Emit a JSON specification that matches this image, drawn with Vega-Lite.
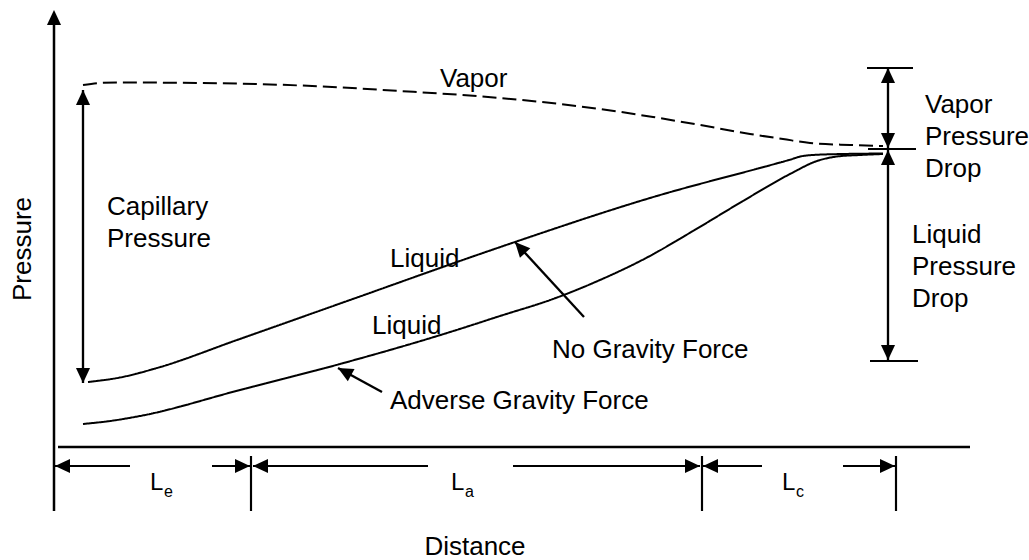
{
  "$schema": "https://vega.github.io/schema/vega-lite/v6.json",
  "description": "Pressure distribution along a heat pipe: vapor and liquid pressure versus distance through evaporator, adiabatic and condenser sections.",
  "width": 1029,
  "height": 560,
  "autosize": "none",
  "padding": 0,
  "background": "white",
  "config": {
    "view": {"stroke": null},
    "text": {"font": "Liberation Sans", "fontSize": 26, "color": "black"}
  },
  "datasets": {
    "curves": [
      {"series": "Vapor", "phase": "vapor", "x": 29, "y": 362},
      {"series": "Vapor", "phase": "vapor", "x": 46, "y": 364},
      {"series": "Vapor", "phase": "vapor", "x": 63, "y": 364.5},
      {"series": "Vapor", "phase": "vapor", "x": 146, "y": 364},
      {"series": "Vapor", "phase": "vapor", "x": 246, "y": 361.5},
      {"series": "Vapor", "phase": "vapor", "x": 346, "y": 356},
      {"series": "Vapor", "phase": "vapor", "x": 446, "y": 349},
      {"series": "Vapor", "phase": "vapor", "x": 546, "y": 338},
      {"series": "Vapor", "phase": "vapor", "x": 599, "y": 330},
      {"series": "Vapor", "phase": "vapor", "x": 646, "y": 322},
      {"series": "Vapor", "phase": "vapor", "x": 696, "y": 313},
      {"series": "Vapor", "phase": "vapor", "x": 729, "y": 308},
      {"series": "Vapor", "phase": "vapor", "x": 756, "y": 304},
      {"series": "Vapor", "phase": "vapor", "x": 796, "y": 302},
      {"series": "Vapor", "phase": "vapor", "x": 829, "y": 301},
      {"series": "Liquid, no gravity", "phase": "liquid", "x": 34, "y": 65},
      {"series": "Liquid, no gravity", "phase": "liquid", "x": 66, "y": 69.5},
      {"series": "Liquid, no gravity", "phase": "liquid", "x": 103, "y": 79},
      {"series": "Liquid, no gravity", "phase": "liquid", "x": 183, "y": 107},
      {"series": "Liquid, no gravity", "phase": "liquid", "x": 296, "y": 147},
      {"series": "Liquid, no gravity", "phase": "liquid", "x": 426, "y": 193},
      {"series": "Liquid, no gravity", "phase": "liquid", "x": 461, "y": 205},
      {"series": "Liquid, no gravity", "phase": "liquid", "x": 596, "y": 249},
      {"series": "Liquid, no gravity", "phase": "liquid", "x": 735, "y": 287},
      {"series": "Liquid, no gravity", "phase": "liquid", "x": 749, "y": 291},
      {"series": "Liquid, no gravity", "phase": "liquid", "x": 769, "y": 292.5},
      {"series": "Liquid, no gravity", "phase": "liquid", "x": 829, "y": 293.5},
      {"series": "Liquid, adverse gravity", "phase": "liquid", "x": 29, "y": 23},
      {"series": "Liquid, adverse gravity", "phase": "liquid", "x": 56, "y": 26},
      {"series": "Liquid, adverse gravity", "phase": "liquid", "x": 86, "y": 31},
      {"series": "Liquid, adverse gravity", "phase": "liquid", "x": 186, "y": 57},
      {"series": "Liquid, adverse gravity", "phase": "liquid", "x": 286, "y": 83},
      {"series": "Liquid, adverse gravity", "phase": "liquid", "x": 393, "y": 114},
      {"series": "Liquid, adverse gravity", "phase": "liquid", "x": 446, "y": 131},
      {"series": "Liquid, adverse gravity", "phase": "liquid", "x": 499, "y": 148},
      {"series": "Liquid, adverse gravity", "phase": "liquid", "x": 546, "y": 167},
      {"series": "Liquid, adverse gravity", "phase": "liquid", "x": 594, "y": 190},
      {"series": "Liquid, adverse gravity", "phase": "liquid", "x": 639, "y": 216},
      {"series": "Liquid, adverse gravity", "phase": "liquid", "x": 689, "y": 246},
      {"series": "Liquid, adverse gravity", "phase": "liquid", "x": 736, "y": 273},
      {"series": "Liquid, adverse gravity", "phase": "liquid", "x": 763, "y": 286},
      {"series": "Liquid, adverse gravity", "phase": "liquid", "x": 783, "y": 290.5},
      {"series": "Liquid, adverse gravity", "phase": "liquid", "x": 806, "y": 292},
      {"series": "Liquid, adverse gravity", "phase": "liquid", "x": 829, "y": 293}
    ],
    "segments": [
      {"part": "axis", "x": 0, "y": -64, "x2": 0, "y2": 430},
      {"part": "axis", "x": 4, "y": 0, "x2": 916, "y2": 0},
      {"part": "shaft", "x": 29, "y": 64, "x2": 29, "y2": 357},
      {"part": "shaft", "x": 834, "y": 299, "x2": 834, "y2": 379},
      {"part": "shaft", "x": 834, "y": 87, "x2": 834, "y2": 297},
      {"part": "shaft", "x": 530, "y": 130, "x2": 461, "y2": 205},
      {"part": "shaft", "x": 328, "y": 55, "x2": 284, "y2": 79},
      {"part": "bar", "x": 813, "y": 379, "x2": 859, "y2": 379},
      {"part": "bar", "x": 814, "y": 298, "x2": 862, "y2": 298},
      {"part": "bar", "x": 816, "y": 86, "x2": 864, "y2": 86},
      {"part": "bar", "x": 197, "y": -9, "x2": 197, "y2": -64},
      {"part": "bar", "x": 648, "y": -9, "x2": 648, "y2": -64},
      {"part": "bar", "x": 842, "y": -9, "x2": 842, "y2": -64},
      {"part": "dimension", "x": 1, "y": -19, "x2": 76, "y2": -19},
      {"part": "dimension", "x": 158, "y": -19, "x2": 196, "y2": -19},
      {"part": "dimension", "x": 199, "y": -19, "x2": 374, "y2": -19},
      {"part": "dimension", "x": 459, "y": -19, "x2": 646, "y2": -19},
      {"part": "dimension", "x": 649, "y": -19, "x2": 708, "y2": -19},
      {"part": "dimension", "x": 789, "y": -19, "x2": 841, "y2": -19}
    ],
    "heads": [
      {"x": 0, "y": 437, "heading": 0},
      {"x": 29, "y": 357, "heading": 0},
      {"x": 29, "y": 64, "heading": 180},
      {"x": 834, "y": 379, "heading": 0},
      {"x": 834, "y": 299, "heading": 180},
      {"x": 834, "y": 297, "heading": 0},
      {"x": 834, "y": 87, "heading": 180},
      {"x": 1, "y": -19, "heading": 270},
      {"x": 196, "y": -19, "heading": 90},
      {"x": 199, "y": -19, "heading": 270},
      {"x": 646, "y": -19, "heading": 90},
      {"x": 649, "y": -19, "heading": 270},
      {"x": 841, "y": -19, "heading": 90},
      {"x": 461, "y": 205, "heading": 317.4},
      {"x": 284, "y": 79, "heading": 298.6}
    ],
    "labels": [
      {"x": 386, "y": 360, "text": "Vapor"},
      {"x": 53, "y": 232, "text": "Capillary\nPressure"},
      {"x": 336, "y": 180, "text": "Liquid"},
      {"x": 318, "y": 113, "text": "Liquid"},
      {"x": 498, "y": 89, "text": "No Gravity Force"},
      {"x": 336, "y": 38, "text": "Adverse Gravity Force"},
      {"x": 871, "y": 334, "text": "Vapor\nPressure\nDrop"},
      {"x": 858, "y": 204, "text": "Liquid\nPressure\nDrop"}
    ],
    "sections": [
      {"x": 96, "y": -43, "main": "L", "sub": "e"},
      {"x": 397, "y": -43, "main": "L", "sub": "a"},
      {"x": 728, "y": -43, "main": "L", "sub": "c"}
    ],
    "titles": [
      {"x": 421, "y": -100, "text": "Distance", "angle": 0},
      {"x": -31, "y": 198, "text": "Pressure", "angle": 270}
    ]
  },
  "layer": [
    {
      "data": {"name": "segments"},
      "mark": {"type": "rule", "color": "black"},
      "encoding": {
        "x": {"field": "x", "type": "quantitative", "scale": {"domain": [-54, 975], "nice": false, "zero": false}, "axis": null},
        "y": {"field": "y", "type": "quantitative", "scale": {"domain": [-113, 447], "nice": false, "zero": false}, "axis": null},
        "x2": {"field": "x2"},
        "y2": {"field": "y2"},
        "strokeWidth": {
          "field": "part",
          "type": "nominal",
          "scale": {"domain": ["axis", "shaft", "bar", "dimension"], "range": [2.5, 2, 2.5, 1.8]},
          "legend": null
        }
      }
    },
    {
      "data": {"name": "curves"},
      "mark": {"type": "line", "color": "black", "strokeWidth": 2, "interpolate": "monotone"},
      "encoding": {
        "x": {"field": "x", "type": "quantitative", "scale": {"domain": [-54, 975], "nice": false, "zero": false}, "axis": null},
        "y": {"field": "y", "type": "quantitative", "scale": {"domain": [-113, 447], "nice": false, "zero": false}, "axis": null},
        "detail": {"field": "series", "type": "nominal"},
        "strokeDash": {
          "field": "phase",
          "type": "nominal",
          "scale": {"domain": ["vapor", "liquid"], "range": [[14, 6], [1, 0]]},
          "legend": null
        }
      }
    },
    {
      "data": {"name": "heads"},
      "mark": {"type": "point", "shape": "M0,0L-0.47,1L0.47,1Z", "filled": true, "color": "black", "opacity": 1, "size": 900, "strokeWidth": 0},
      "encoding": {
        "x": {"field": "x", "type": "quantitative", "scale": {"domain": [-54, 975], "nice": false, "zero": false}, "axis": null},
        "y": {"field": "y", "type": "quantitative", "scale": {"domain": [-113, 447], "nice": false, "zero": false}, "axis": null},
        "angle": {"field": "heading", "type": "quantitative", "scale": null}
      }
    },
    {
      "data": {"name": "labels"},
      "mark": {"type": "text", "align": "left", "baseline": "alphabetic", "lineBreak": "\n", "lineHeight": 32},
      "encoding": {
        "x": {"field": "x", "type": "quantitative", "scale": {"domain": [-54, 975], "nice": false, "zero": false}, "axis": null},
        "y": {"field": "y", "type": "quantitative", "scale": {"domain": [-113, 447], "nice": false, "zero": false}, "axis": null},
        "text": {"field": "text"}
      }
    },
    {
      "data": {"name": "sections"},
      "mark": {"type": "text", "align": "left", "baseline": "alphabetic", "fontSize": 24},
      "encoding": {
        "x": {"field": "x", "type": "quantitative", "scale": {"domain": [-54, 975], "nice": false, "zero": false}, "axis": null},
        "y": {"field": "y", "type": "quantitative", "scale": {"domain": [-113, 447], "nice": false, "zero": false}, "axis": null},
        "text": {"field": "main"}
      }
    },
    {
      "data": {"name": "sections"},
      "mark": {"type": "text", "align": "left", "baseline": "alphabetic", "fontSize": 16, "dx": 14, "dy": 7},
      "encoding": {
        "x": {"field": "x", "type": "quantitative", "scale": {"domain": [-54, 975], "nice": false, "zero": false}, "axis": null},
        "y": {"field": "y", "type": "quantitative", "scale": {"domain": [-113, 447], "nice": false, "zero": false}, "axis": null},
        "text": {"field": "sub"}
      }
    },
    {
      "data": {"name": "titles"},
      "mark": {"type": "text", "align": "center", "baseline": "middle"},
      "encoding": {
        "x": {"field": "x", "type": "quantitative", "scale": {"domain": [-54, 975], "nice": false, "zero": false}, "axis": null},
        "y": {"field": "y", "type": "quantitative", "scale": {"domain": [-113, 447], "nice": false, "zero": false}, "axis": null},
        "text": {"field": "text"},
        "angle": {"field": "angle", "type": "quantitative", "scale": null}
      }
    }
  ]
}
